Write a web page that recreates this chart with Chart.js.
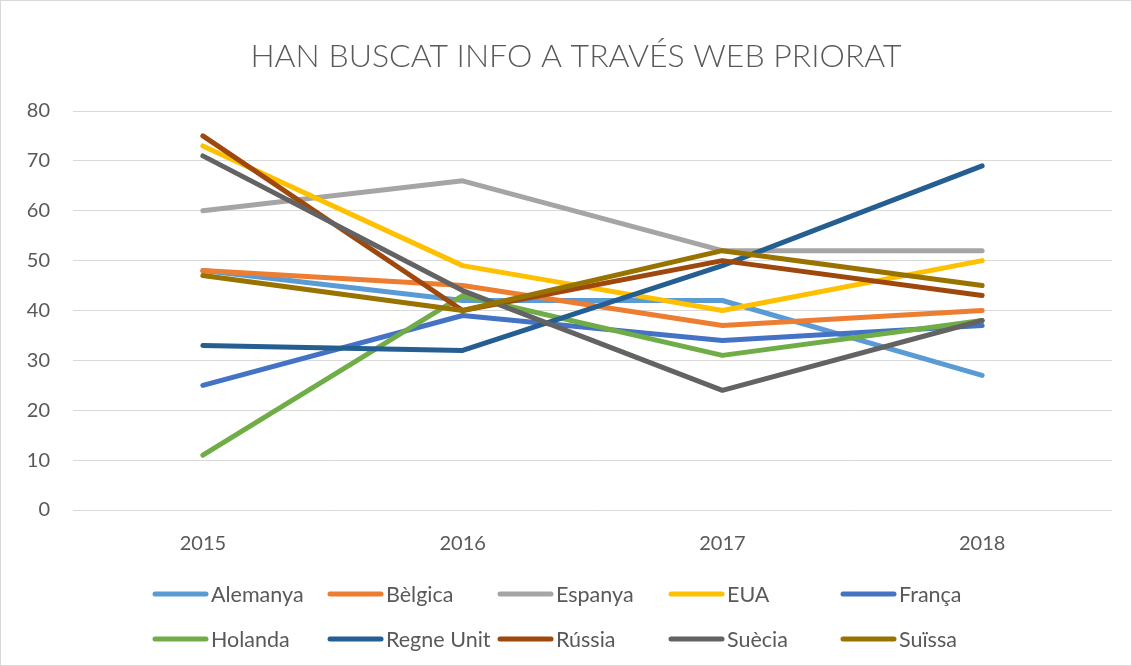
<!DOCTYPE html>
<html>
<head>
<meta charset="utf-8">
<script src="https://cdn.jsdelivr.net/npm/chart.js@4/dist/chart.umd.min.js"></script>
<style>
html,body{margin:0;padding:0;background:#fff;}
#wrap{width:1132px;height:666px;position:relative;}
</style>
</head>
<body>
<div id="wrap"><canvas id="c" width="1132" height="666"></canvas></div>
<script>
const titleText = "HAN BUSCAT INFO A TRAVÉS WEB PRIORAT";
const years = ["2015", "2016", "2017", "2018"];
const seriesNames = ["Alemanya", "Bèlgica", "Espanya", "EUA", "França", "Holanda", "Regne Unit", "Rússia", "Suècia", "Suïssa"];
const alemanya  = [48, 42, 42, 27];
const belgica   = [48, 45, 37, 40];
const espanya   = [60, 66, 52, 52];
const eua       = [73, 49, 40, 50];
const franca    = [25, 39, 34, 37];
const holanda   = [11, 43, 31, 38];
const regneUnit = [33, 32, 49, 69];
const russia    = [75, 40, 50, 43];
const suecia    = [71, 44, 24, 38];
const suissa    = [47, 40, 52, 45];
const seriesValues = [alemanya, belgica, espanya, eua, franca, holanda, regneUnit, russia, suecia, suissa];
const colors = ["#5B9BD5", "#ED7D31", "#A5A5A5", "#FFC000", "#4472C4", "#70AD47", "#255E91", "#9E480E", "#636363", "#997300"];
const yTicks = [0, 10, 20, 30, 40, 50, 60, 70, 80];

const FONT = "Lato, 'Open Sans', sans-serif";
const TXT = "#595959";

const decor = {
  id: "decor",
  afterDraw(chart) {
    const ctx = chart.ctx;
    ctx.save();
    // outer border
    ctx.strokeStyle = "#D9D9D9";
    ctx.lineWidth = 1;
    ctx.strokeRect(0.5, 0.5, chart.width - 1, chart.height - 1);
    // title
    ctx.fillStyle = TXT;
    ctx.font = "300 32px " + FONT;
    ctx.textAlign = "center";
    ctx.textBaseline = "middle";
    ctx.fillText(titleText, 576, 57);
    // legend
    const colX = [152, 327, 497, 668, 840];
    const rowY = [594, 639];
    ctx.font = "21.5px " + FONT;
    ctx.textAlign = "left";
    chart.data.datasets.forEach((ds, i) => {
      const x = colX[i % 5], y = rowY[Math.floor(i / 5)];
      ctx.strokeStyle = ds.borderColor;
      ctx.lineWidth = 5;
      ctx.lineCap = "round";
      ctx.beginPath();
      ctx.moveTo(x + 3, y);
      ctx.lineTo(x + 54, y);
      ctx.stroke();
      ctx.fillStyle = TXT;
      ctx.fillText(ds.label, x + 59, y + 1);
    });
    ctx.restore();
  }
};

new Chart(document.getElementById("c"), {
  type: "line",
  data: {
    labels: years,
    datasets: seriesNames.map((name, i) => ({
      label: name,
      data: seriesValues[i],
      borderColor: colors[i],
      backgroundColor: colors[i],
      borderWidth: 5,
      borderCapStyle: "round",
      borderJoinStyle: "round",
      pointRadius: 0,
      pointHoverRadius: 0,
      tension: 0,
      fill: false,
      order: seriesNames.length - i
    }))
  },
  options: {
    responsive: false,
    animation: false,
    devicePixelRatio: 1,
    layout: { padding: { top: 111, left: 0, right: 20, bottom: 106 } },
    plugins: {
      legend: { display: false },
      title: { display: false },
      tooltip: { enabled: false }
    },
    scales: {
      x: {
        offset: true,
        grid: { display: false, drawTicks: false },
        border: { display: false },
        ticks: { color: TXT, font: { family: FONT, size: 20 }, padding: 22, maxRotation: 0 },
        afterFit(s) { s.height = 50; }
      },
      y: {
        min: 0, max: 80,
        afterBuildTicks(s) { s.ticks = yTicks.map(v => ({ value: v })); },
        grid: { color: "#D9D9D9", lineWidth: 1, drawTicks: false },
        border: { display: false },
        ticks: { color: TXT, font: { family: FONT, size: 20 }, padding: 23 },
        afterFit(s) { s.width = 73; }
      }
    }
  },
  plugins: [decor]
});
</script>
</body>
</html>
